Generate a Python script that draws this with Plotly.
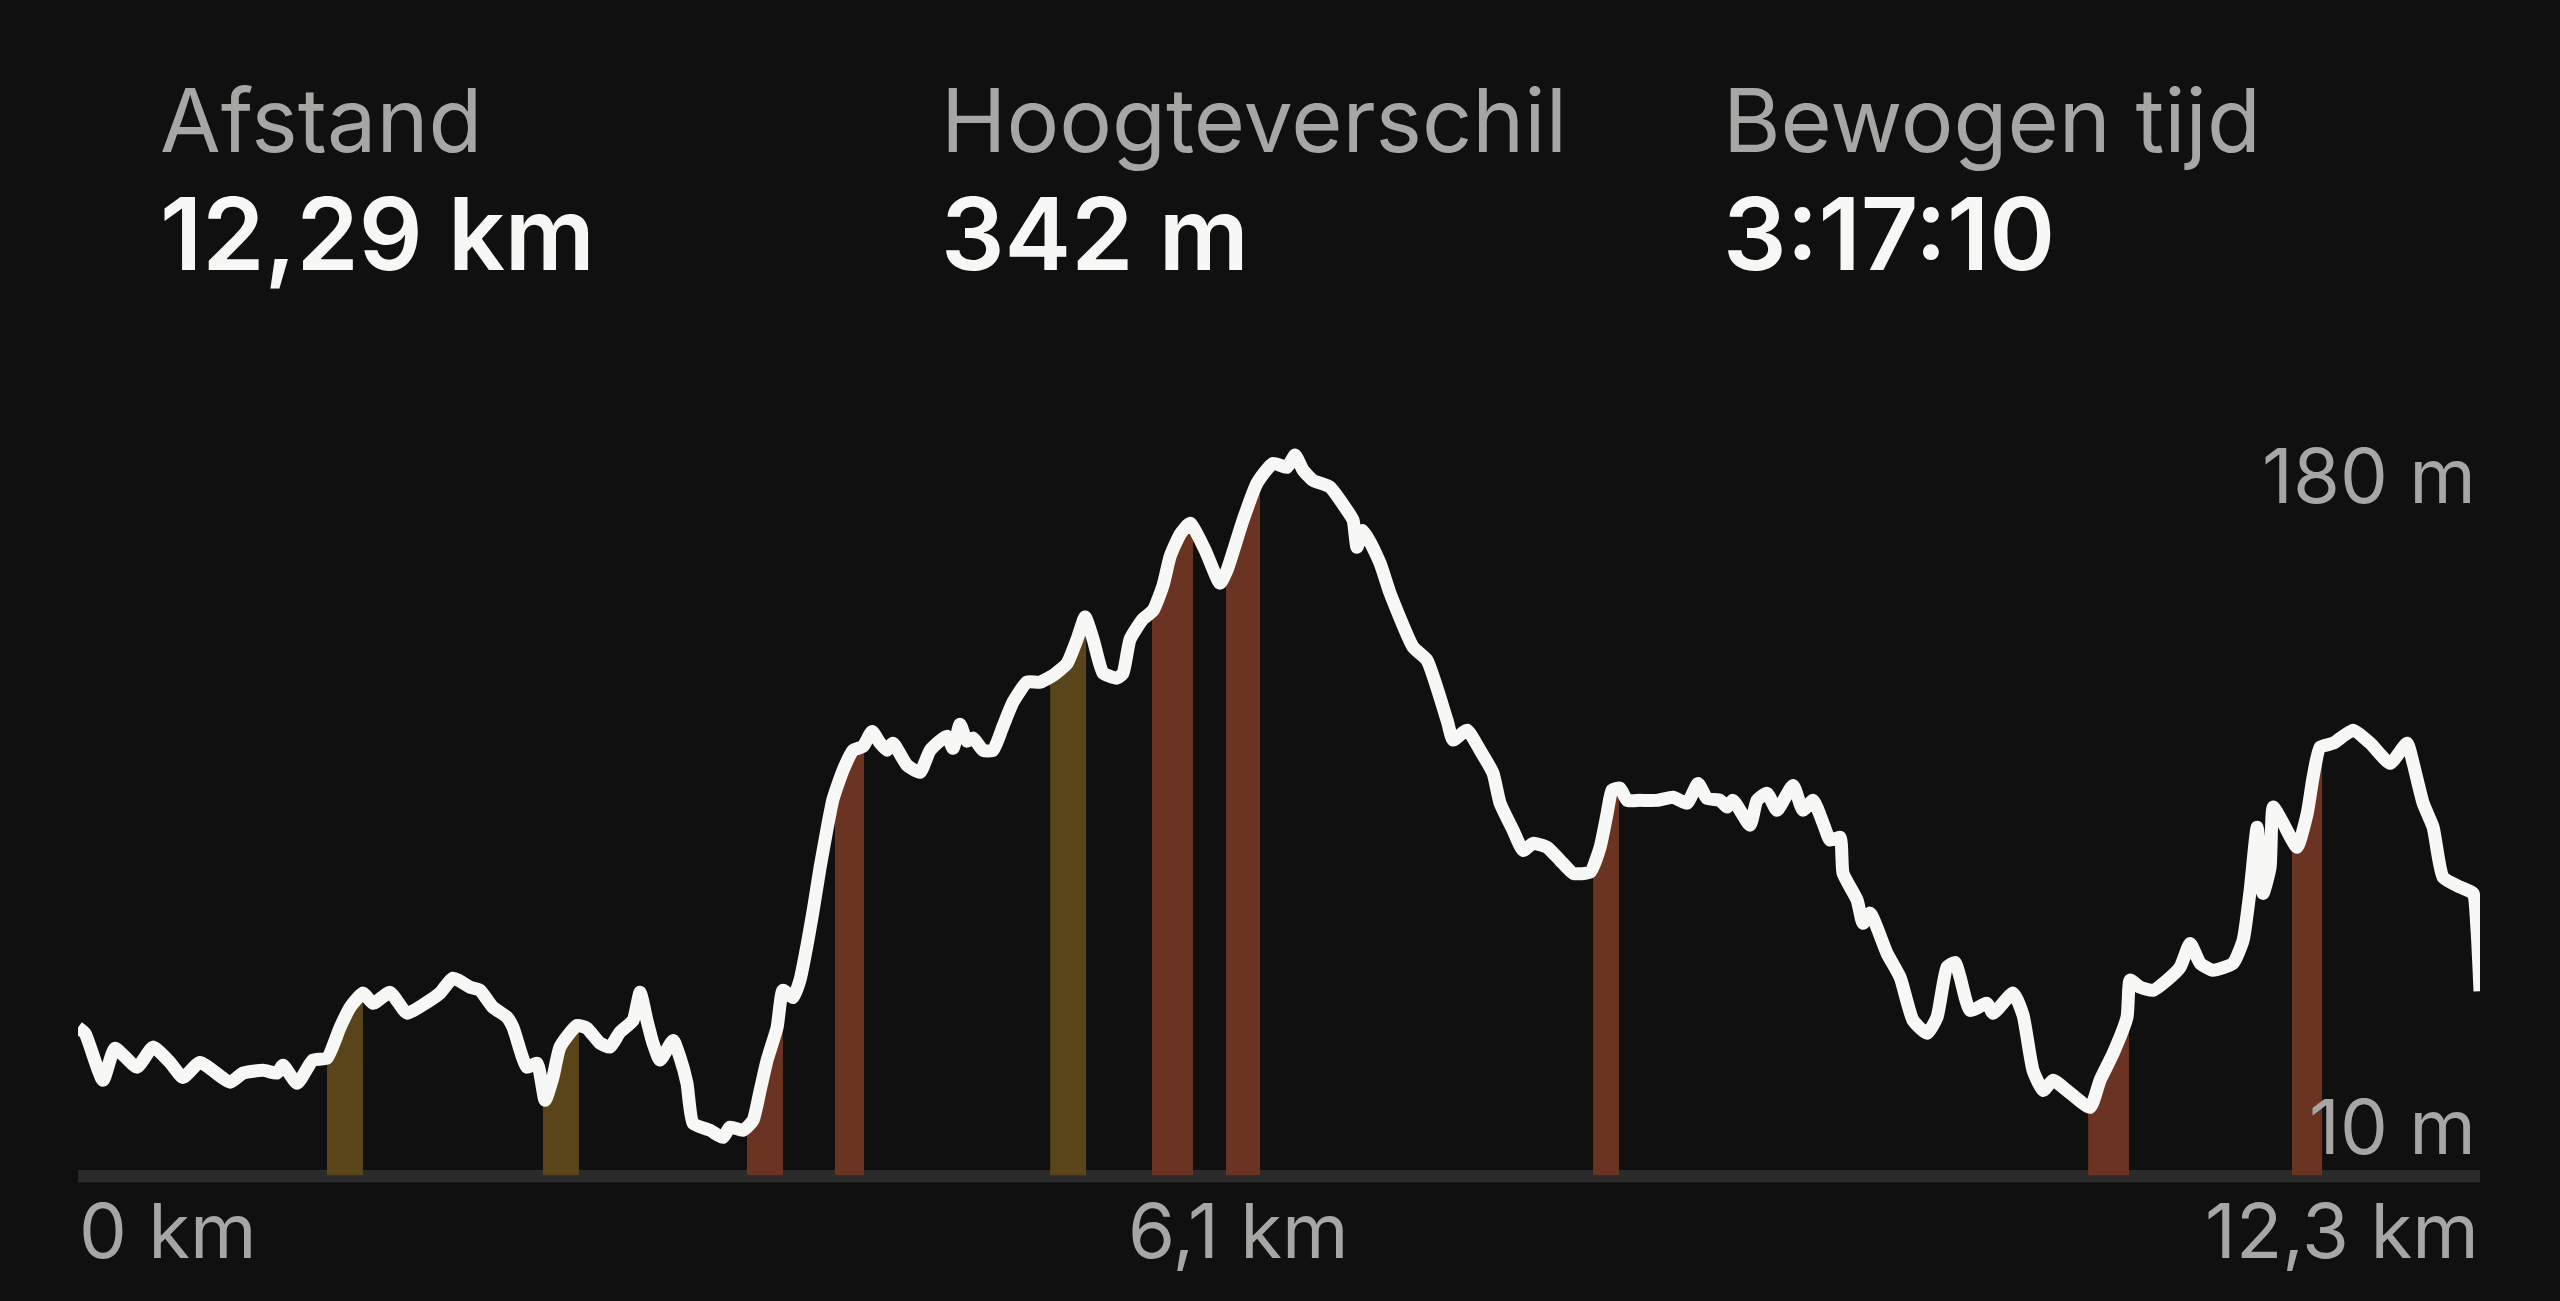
import numpy as np
import plotly.graph_objects as go

# ---------------- data ----------------
dist_km = [0.00, 0.036, 0.128, 0.189, 0.302, 0.384, 0.471, 0.537, 0.624, 0.778,
           0.844, 0.947, 1.018, 1.049, 1.121, 1.202, 1.274, 1.341, 1.392, 1.458,
           1.510, 1.596, 1.684, 1.786, 1.852, 1.919, 2.006, 2.057, 2.123, 2.195,
           2.226, 2.297, 2.349, 2.390, 2.430, 2.466, 2.553, 2.604, 2.671, 2.722,
           2.773, 2.840, 2.876, 2.911, 2.942, 2.978, 3.045, 3.080, 3.116, 3.147,
           3.234, 3.300, 3.336, 3.403, 3.454, 3.490, 3.526, 3.577, 3.607, 3.659,
           3.694, 3.730, 3.761, 3.797, 3.833, 3.863, 3.914, 3.966, 4.017, 4.063,
           4.104, 4.140, 4.170, 4.242, 4.308, 4.360, 4.446, 4.477, 4.513, 4.549,
           4.580, 4.631, 4.682, 4.733, 4.784, 4.856, 4.922, 4.989, 5.061, 5.112,
           5.153, 5.194, 5.245, 5.316, 5.347, 5.383, 5.449, 5.501, 5.552, 5.588,
           5.639, 5.690, 5.767, 5.843, 5.879, 5.961, 6.033, 6.114, 6.186, 6.227,
           6.268, 6.319, 6.406, 6.493, 6.524, 6.544, 6.575, 6.662, 6.713, 6.831,
           6.902, 7.005, 7.036, 7.107, 7.174, 7.240, 7.276, 7.343, 7.394, 7.445,
           7.517, 7.583, 7.650, 7.737, 7.788, 7.824, 7.849, 7.890, 7.926, 7.992,
           8.079, 8.161, 8.233, 8.289, 8.335, 8.402, 8.438, 8.468, 8.555, 8.591,
           8.642, 8.693, 8.775, 8.826, 8.878, 8.929, 8.965, 9.016, 9.031, 9.103,
           9.133, 9.169, 9.256, 9.323, 9.389, 9.461, 9.512, 9.563, 9.604, 9.630,
           9.681, 9.768, 9.799, 9.901, 9.952, 10.003, 10.055, 10.106, 10.177, 10.295,
           10.346, 10.413, 10.484, 10.500, 10.551, 10.617, 10.689, 10.756, 10.807, 10.858,
           10.924, 11.027, 11.078, 11.114, 11.150, 11.180, 11.216, 11.232, 11.283, 11.354,
           11.406, 11.436, 11.472, 11.539, 11.641, 11.728, 11.830, 11.917, 11.948, 11.999,
           12.050, 12.101, 12.188, 12.255, 12.275, 12.290]

elev_m = [36.0, 34.5, 22.6, 30.7, 25.9, 31.0, 27.1, 23.3, 27.1, 22.1,
          24.4, 25.1, 24.4, 26.4, 21.8, 27.7, 28.2, 36.0, 41.1, 44.7,
          42.1, 44.9, 39.6, 42.4, 44.7, 48.5, 46.2, 45.4, 41.1, 38.6,
          36.0, 25.9, 26.9, 17.5, 23.3, 31.0, 36.5, 35.8, 32.0, 31.0,
          34.8, 37.8, 44.9, 37.8, 32.0, 27.7, 32.7, 28.4, 21.8, 11.7,
          9.9, 8.1, 10.7, 9.9, 12.4, 20.0, 27.7, 36.0, 45.4, 43.6,
          48.0, 56.8, 65.5, 76.6, 86.5, 93.9, 101.2, 106.3, 107.3, 111.1,
          108.1, 106.3, 108.1, 102.5, 100.7, 106.3, 109.9, 106.8, 112.9, 108.6,
          109.4, 106.3, 106.3, 112.4, 118.5, 123.6, 123.6, 125.3, 128.4, 134.5,
          140.1, 134.5, 125.9, 124.6, 125.9, 134.5, 139.6, 141.8, 148.2, 155.5,
          161.1, 163.9, 157.1, 148.7, 152.0, 164.7, 174.1, 179.1, 178.1, 181.2,
          177.4, 174.8, 173.1, 167.2, 164.7, 157.8, 162.1, 153.8, 146.2, 132.5,
          129.2, 113.9, 108.9, 111.4, 106.3, 100.5, 92.9, 86.0, 80.9, 82.7,
          81.7, 78.4, 75.1, 75.4, 81.7, 90.3, 96.2, 96.7, 93.6, 93.6,
          93.6, 94.4, 92.9, 97.9, 94.1, 93.6, 91.9, 93.6, 87.3, 93.6,
          95.4, 91.1, 97.4, 91.1, 93.6, 87.8, 83.5, 84.2, 75.1, 68.3,
          62.4, 65.0, 54.8, 48.7, 37.8, 34.5, 38.6, 51.3, 52.5, 48.7,
          40.3, 42.1, 39.6, 44.7, 39.1, 25.1, 20.0, 22.6, 20.0, 15.7,
          22.6, 29.4, 38.6, 48.0, 46.2, 45.4, 48.0, 51.3, 57.3, 52.3,
          50.5, 52.3, 58.1, 70.8, 86.8, 70.0, 76.6, 91.9, 87.8, 81.7,
          90.3, 99.5, 107.1, 108.1, 111.4, 108.1, 103.0, 108.1, 103.0, 92.9,
          86.8, 74.1, 71.6, 70.0, 60.6, 45.2]

# steep segments (km) and their grade class
seg_start = [1.274, 2.379, 3.423, 3.873, 4.974, 5.495, 5.874, 7.752, 10.285, 11.328]
seg_end = [1.458, 2.563, 3.607, 4.022, 5.158, 5.705, 6.048, 7.885, 10.494, 11.482]
seg_grade = ["moderate", "moderate", "steep", "steep", "moderate",
             "steep", "steep", "steep", "steep", "steep"]

stat_labels = ["Afstand", "Hoogteverschil", "Bewogen tijd"]
stat_values = ["12,29 km", "342 m", "3:17:10"]
y_labels = ["180 m", "10 m"]
x_labels = ["0 km", "6,1 km", "12,3 km"]

# ---------------- style ----------------
BG = "#0f100f"
GRADE_COLORS = {"moderate": "#594519", "steep": "#6a3322"}
FONT = "Inter"
GREY = "#a6a6a4"

x = np.array(dist_km)
y = np.array(elev_m)

fig = go.Figure()

# baseline band
fig.add_shape(type="rect", xref="x", yref="y", x0=0, x1=12.29, y0=-3.3, y1=-0.2,
              fillcolor="#2a2b2a", line_width=0, layer="below")

# grade bars (area under profile within each segment)
for s, e, g in zip(seg_start, seg_end, seg_grade):
    inner = x[(x > s) & (x < e)]
    xs = np.concatenate([[s], inner, [e]])
    ys = np.interp(xs, x, y)
    px = np.concatenate([xs, [e, s]])
    py = np.concatenate([ys, [-1.5, -1.5]])
    fig.add_trace(go.Scatter(x=px, y=py, mode="lines", fill="toself",
                             fillcolor=GRADE_COLORS[g], line=dict(width=0),
                             hoverinfo="skip", showlegend=False))

# elevation profile
fig.add_trace(go.Scatter(x=x, y=y, mode="lines",
                         line=dict(color="#f7f7f5", width=13, shape="spline", smoothing=0.5),
                         showlegend=False))

L, R, T, B = 78, 80, 381, 112
W, H = 2560, 1301
pw, ph = W - L - R, H - T - B


def px_x(p):
    return (p - L) / pw


def px_y(p):
    return (H - B - p) / ph


ann = []
stat_x = [158, 939, 1721]
for sx, lab, val in zip(stat_x, stat_labels, stat_values):
    ann.append(dict(text=lab, x=px_x(sx), y=px_y(120), xref="paper", yref="paper",
                    xanchor="left", yanchor="middle", showarrow=False,
                    font=dict(family=FONT, size=88, color=GREY)))
    ann.append(dict(text=val, x=px_x(sx), y=px_y(234), xref="paper", yref="paper",
                    xanchor="left", yanchor="middle", showarrow=False,
                    font=dict(family=FONT, size=100, color="#f7f7f5", weight=600)))

ann.append(dict(text=y_labels[0], x=px_x(2478), y=px_y(475), xref="paper", yref="paper",
                xanchor="right", yanchor="middle", showarrow=False,
                font=dict(family=FONT, size=76, color=GREY)))
ann.append(dict(text=y_labels[1], x=px_x(2478), y=px_y(1126), xref="paper", yref="paper",
                xanchor="right", yanchor="middle", showarrow=False,
                font=dict(family=FONT, size=76, color=GREY)))

ann.append(dict(text=x_labels[0], x=px_x(77), y=px_y(1230), xref="paper", yref="paper",
                xanchor="left", yanchor="middle", showarrow=False,
                font=dict(family=FONT, size=76, color=GREY)))
ann.append(dict(text=x_labels[1], x=px_x(1238), y=px_y(1230), xref="paper", yref="paper",
                xanchor="center", yanchor="middle", showarrow=False,
                font=dict(family=FONT, size=76, color=GREY)))
ann.append(dict(text=x_labels[2], x=px_x(2481), y=px_y(1230), xref="paper", yref="paper",
                xanchor="right", yanchor="middle", showarrow=False,
                font=dict(family=FONT, size=76, color=GREY)))

fig.update_layout(
    width=W, height=H,
    margin=dict(l=L, r=R, t=T, b=B, pad=0),
    paper_bgcolor=BG, plot_bgcolor=BG,
    xaxis=dict(range=[0, 12.29], visible=False, fixedrange=True),
    yaxis=dict(range=[-5, 200], visible=False, fixedrange=True),
    annotations=ann,
    showlegend=False,
)

fig.write_html("out.html", config={"displayModeBar": False},
               post_script="document.body.style.margin='0';"
                           "document.body.style.background='" + BG + "';"
                           "document.body.style.overflow='hidden';")
